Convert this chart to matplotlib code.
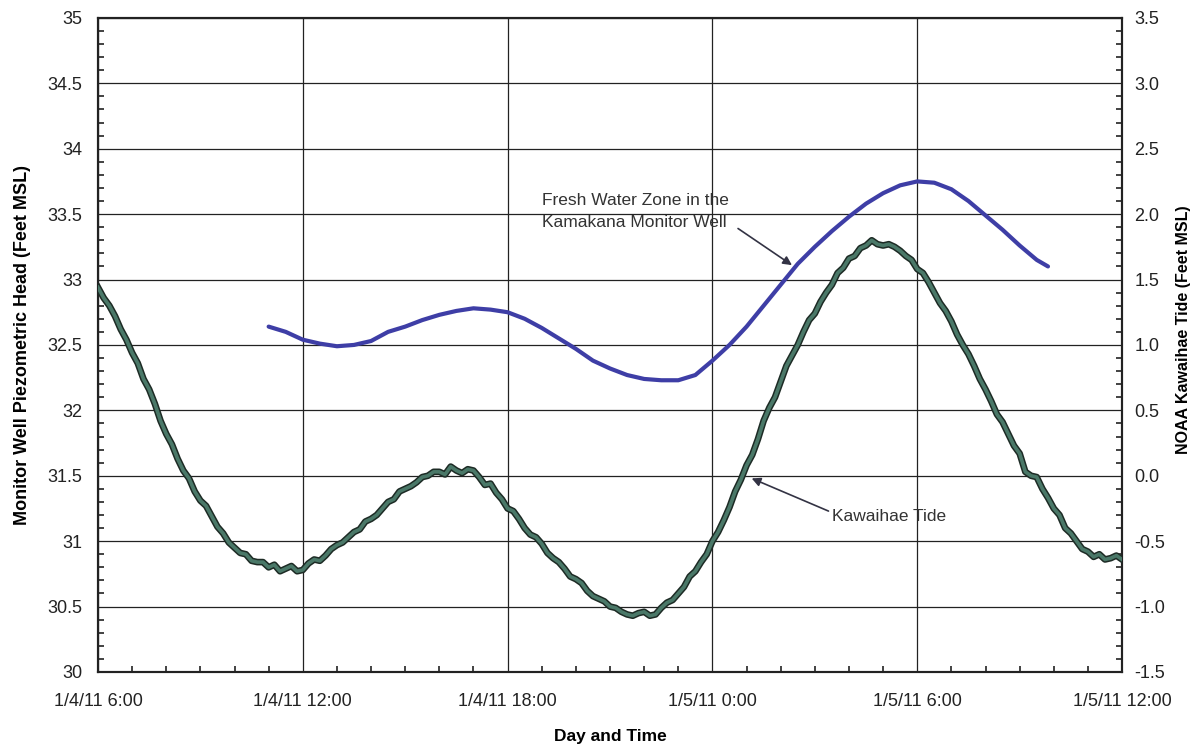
import numpy as np
import matplotlib.pyplot as plt
import matplotlib.patheffects as pe
from matplotlib.ticker import MultipleLocator, FormatStrFormatter

plt.rcParams['font.family'] = ['Liberation Sans', 'DejaVu Sans']

# hours after 1/4/11 6:00
TICK_HOURS = [0, 6, 12, 18, 24, 30]
TICK_LABELS = ['1/4/11 6:00', '1/4/11 12:00', '1/4/11 18:00',
               '1/5/11 0:00', '1/5/11 6:00', '1/5/11 12:00']

# NOAA Kawaihae tide, 10 minute readings (feet MSL)
tide_ft = [
    1.44, 1.36, 1.30, 1.22, 1.12, 1.04, 0.94, 0.86, 0.74, 0.66,
    0.55, 0.42, 0.32, 0.24, 0.13, 0.04, -0.02, -0.12, -0.19, -0.23,
    -0.31, -0.39, -0.44, -0.51, -0.55, -0.59, -0.60, -0.65, -0.66, -0.66,
    -0.70, -0.68, -0.73, -0.71, -0.69, -0.73, -0.72, -0.67, -0.64, -0.65,
    -0.61, -0.56, -0.53, -0.51, -0.47, -0.43, -0.41, -0.35, -0.33, -0.30,
    -0.25, -0.20, -0.18, -0.12, -0.10, -0.08, -0.05, -0.01, 0.00, 0.03,
    0.03, 0.01, 0.07, 0.04, 0.02, 0.05, 0.04, -0.01, -0.07, -0.06,
    -0.13, -0.18, -0.25, -0.27, -0.33, -0.40, -0.45, -0.47, -0.52, -0.59,
    -0.63, -0.66, -0.71, -0.77, -0.79, -0.82, -0.88, -0.92, -0.94, -0.96,
    -1.00, -1.01, -1.04, -1.06, -1.07, -1.05, -1.04, -1.07, -1.06, -1.01,
    -0.97, -0.95, -0.90, -0.85, -0.77, -0.73, -0.66, -0.60, -0.50, -0.43,
    -0.34, -0.24, -0.12, -0.03, 0.08, 0.16, 0.28, 0.42, 0.52, 0.60,
    0.72, 0.84, 0.92, 1.00, 1.10, 1.19, 1.24, 1.33, 1.40, 1.46,
    1.55, 1.59, 1.66, 1.68, 1.74, 1.76, 1.80, 1.77, 1.76, 1.77,
    1.75, 1.72, 1.68, 1.65, 1.58, 1.55, 1.48, 1.40, 1.32, 1.26,
    1.18, 1.08, 1.00, 0.93, 0.84, 0.74, 0.66, 0.57, 0.47, 0.41,
    0.32, 0.23, 0.17, 0.03, 0.00, -0.01, -0.10, -0.17, -0.25, -0.30,
    -0.40, -0.44, -0.50, -0.56, -0.58, -0.62, -0.60, -0.64, -0.63, -0.61,
    -0.64,
]
tide_hours = np.arange(len(tide_ft)) / 6.0

# Kamakana monitor well head, half-hourly (feet MSL)
well_hours = [5.0, 5.5, 6.0, 6.5, 7.0, 7.5, 8.0, 8.5, 9.0, 9.5,
              10.0, 10.5, 11.0, 11.5, 12.0, 12.5, 13.0, 13.5, 14.0, 14.5,
              15.0, 15.5, 16.0, 16.5, 17.0, 17.5, 18.0, 18.5, 19.0, 19.5,
              20.0, 20.5, 21.0, 21.5, 22.0, 22.5, 23.0, 23.5, 24.0, 24.5,
              25.0, 25.5, 26.0, 26.5, 27.0, 27.5, 27.83]
well_ft = [32.64, 32.60, 32.54, 32.51, 32.49, 32.50, 32.53, 32.60, 32.64, 32.69,
           32.73, 32.76, 32.78, 32.77, 32.75, 32.70, 32.63, 32.55, 32.47, 32.38,
           32.32, 32.27, 32.24, 32.23, 32.23, 32.27, 32.38, 32.50, 32.64, 32.80,
           32.96, 33.12, 33.25, 33.37, 33.48, 33.58, 33.66, 33.72, 33.75, 33.74,
           33.69, 33.60, 33.49, 33.38, 33.26, 33.15, 33.10]

fig = plt.figure(figsize=(12.02, 7.45), dpi=100)
ax = fig.add_axes([0.0815, 0.098, 0.852, 0.878])
ax2 = ax.twinx()

ax.plot(well_hours, well_ft, color='#3e3ea6', lw=3.0, solid_capstyle='round', zorder=3)

ax2.plot(tide_hours, tide_ft, color='#4a7868', lw=2.6, zorder=3,
         path_effects=[pe.Stroke(linewidth=4.8, foreground='#1d2b25'), pe.Normal()])

ax.set_xlim(0, 30)
ax.set_ylim(30, 35)
ax2.set_ylim(-1.5, 3.5)

ax.set_xticks(TICK_HOURS)
ax.set_xticklabels(TICK_LABELS)
ax.xaxis.set_minor_locator(MultipleLocator(1))
ax.yaxis.set_major_locator(MultipleLocator(0.5))
ax.yaxis.set_minor_locator(MultipleLocator(0.1))
ax.yaxis.set_major_formatter(FormatStrFormatter('%g'))
ax2.yaxis.set_major_locator(MultipleLocator(0.5))
ax2.yaxis.set_minor_locator(MultipleLocator(0.1))
ax2.yaxis.set_major_formatter(FormatStrFormatter('%.1f'))

ax.grid(True, which='major', color='#222222', lw=0.9)
ax.set_axisbelow(True)

for a in (ax, ax2):
    a.tick_params(which='both', direction='in', labelsize=13, colors='#222222')
    a.tick_params(which='major', length=0)
    a.tick_params(which='minor', length=4, width=1.2)
    for s in a.spines.values():
        s.set_linewidth(1.5)
        s.set_color('#222222')
ax.tick_params(axis='y', pad=11)
ax.tick_params(axis='x', pad=15)
ax2.tick_params(axis='y', pad=9)

ax.set_xlabel('Day and Time', fontsize=12.5, fontweight='bold', labelpad=14)
ax.set_ylabel('Monitor Well Piezometric Head (Feet MSL)', fontsize=13,
              fontweight='bold', labelpad=12)
ax2.set_ylabel('NOAA Kawaihae Tide (Feet MSL)', fontsize=11.5,
               fontweight='bold', labelpad=12)
ax2.yaxis.set_label_coords(1.053, 0.523)

arrow = dict(arrowstyle='-|>', color='#333344', lw=1.2, mutation_scale=13,
             shrinkA=0, shrinkB=0)
ax.text(13.0, 33.66, 'Fresh Water Zone in the\nKamakana Monitor Well',
        fontsize=12.5, color='#333333', va='top', ha='left', linespacing=1.6,
        zorder=5)
ax.annotate('', xy=(20.33, 33.11), xytext=(18.75, 33.39), arrowprops=arrow, zorder=5)
ax.text(21.5, 31.19, 'Kawaihae Tide', fontsize=12.5, color='#333333',
        va='center', ha='left', zorder=5)
ax.annotate('', xy=(19.15, 31.48), xytext=(21.4, 31.23), arrowprops=arrow, zorder=5)

fig.savefig('out.png', dpi=100)
